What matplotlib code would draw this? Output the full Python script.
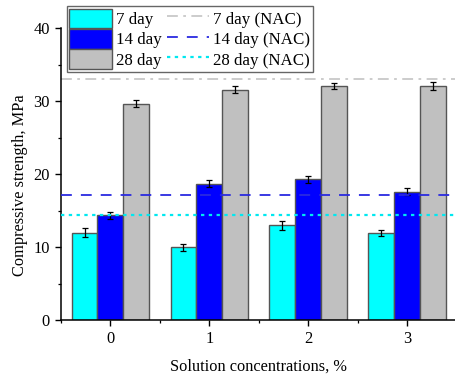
import matplotlib
matplotlib.use("Agg")
import matplotlib.pyplot as plt
import numpy as np
from matplotlib.ticker import MultipleLocator

plt.rcParams['font.family'] = ['Liberation Serif', 'DejaVu Serif']
plt.rcParams['font.size'] = 11.8

categories = ['0', '1', '2', '3']
day7 = [12.0, 10.0, 13.0, 12.0]
day7_err = [0.6, 0.5, 0.6, 0.4]
day14 = [14.4, 18.7, 19.3, 17.6]
day14_err = [0.5, 0.5, 0.5, 0.5]
day28 = [29.7, 31.6, 32.1, 32.1]
day28_err = [0.5, 0.5, 0.4, 0.5]
nac7 = 33.0
nac14 = 17.2
nac28 = 14.4

fig = plt.figure(figsize=(4.55, 3.78), dpi=100)
ax = fig.add_axes([0.134, 0.1526, 0.870, 0.7725])

x = np.arange(len(categories))
w = 0.262
edge = '#555555'
ekw = dict(ecolor='black', elinewidth=0.9, capsize=2.5, capthick=0.9)
b1 = ax.bar(x - w, day7, w, yerr=day7_err, color='#00ffff', edgecolor=edge, linewidth=1.0, error_kw=ekw, label='7 day', zorder=2)
b2 = ax.bar(x, day14, w, yerr=day14_err, color='#0000ff', edgecolor=edge, linewidth=1.0, error_kw=ekw, label='14 day', zorder=2)
b3 = ax.bar(x + w, day28, w, yerr=day28_err, color='#c0c0c0', edgecolor=edge, linewidth=1.0, error_kw=ekw, label='28 day', zorder=2)

l1 = ax.axhline(nac7, color='#c8c8c8', lw=1.3, ls=(0, (6, 3, 1.5, 3)), label='7 day (NAC)', zorder=1)
l2 = ax.axhline(nac14, color='#2a2ae0', lw=1.3, ls=(0, (6, 5)), label='14 day (NAC)', zorder=3)
l3 = ax.axhline(nac28, color='#00e8f0', lw=1.6, ls=(0, (1.5, 2)), label='28 day (NAC)', zorder=3)

ax.set_xlim(-0.5, 3.5)
ax.set_ylim(0, 40)
ax.set_xticks(x)
ax.set_xticklabels(categories)
ax.xaxis.set_minor_locator(MultipleLocator(0.5))
ax.yaxis.set_major_locator(MultipleLocator(10))
ax.yaxis.set_minor_locator(MultipleLocator(5))
ax.tick_params(which='major', direction='out', length=4.5, width=1.0)
ax.tick_params(which='minor', direction='out', length=2.5, width=0.9)
for s in ['top', 'right']:
    ax.spines[s].set_visible(False)
for s in ['left', 'bottom']:
    ax.spines[s].set_linewidth(1.1)

ax.set_ylabel('Compressive strength, MPa')
ax.yaxis.set_label_coords(-0.083, 0.463)
ax.set_xlabel('Solution concentrations, %', labelpad=8)

leg = fig.legend(handles=[b1, b2, b3, l1, l2, l3], ncol=2,
                 loc='upper left', bbox_to_anchor=(0.1466, 0.984),
                 bbox_transform=fig.transFigure, borderaxespad=0,
                 fancybox=False, edgecolor='#666666', framealpha=1,
                 handlelength=2.5, handleheight=1.4, handletextpad=0.25,
                 labelspacing=0.05, columnspacing=0.3, borderpad=0.15,
                 fontsize=12.2)
leg.get_frame().set_linewidth(1.0)

fig.savefig('out.png', dpi=100)
